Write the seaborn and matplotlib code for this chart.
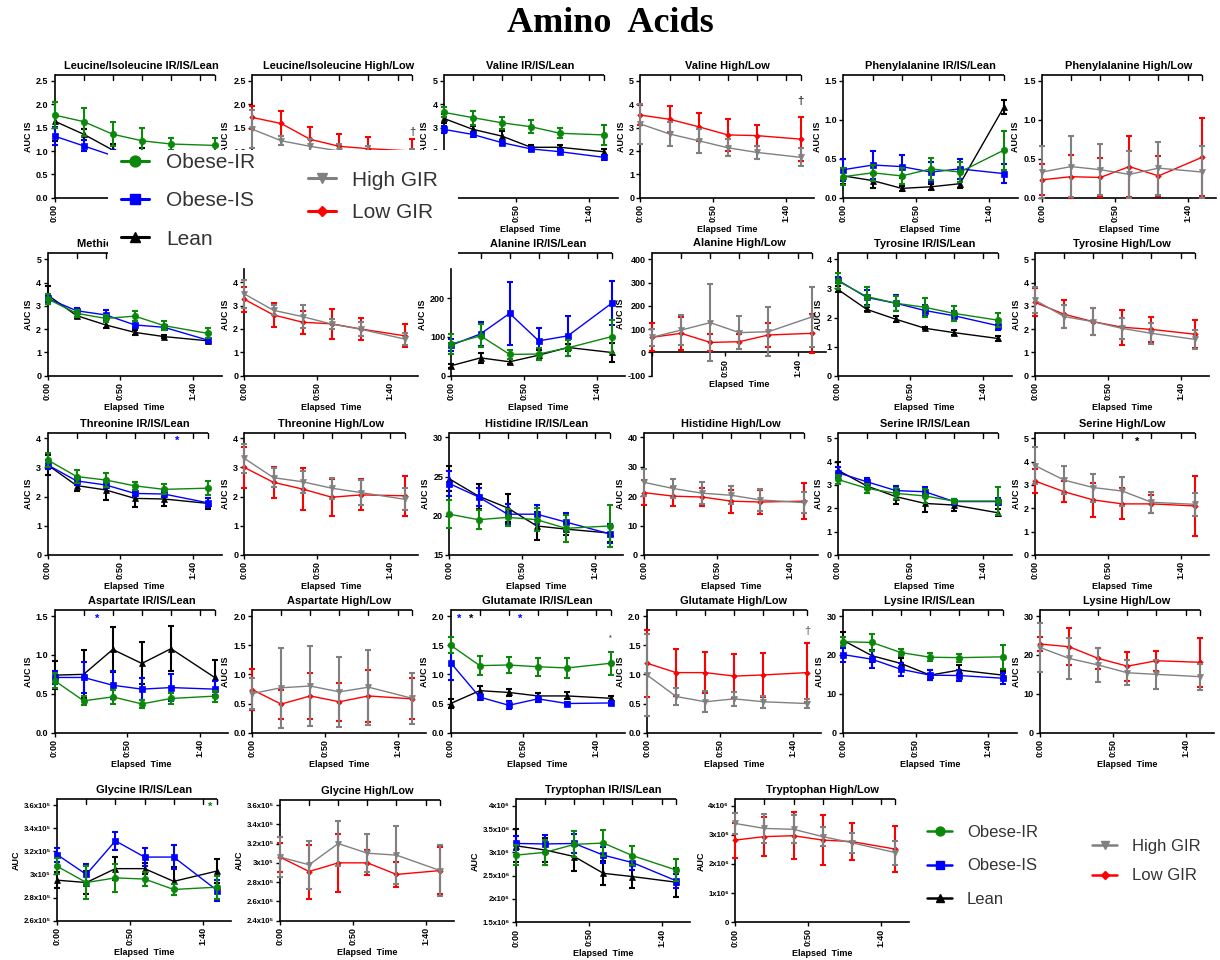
import numpy as np
import pandas as pd
import matplotlib
matplotlib.use("Agg")
import matplotlib.pyplot as plt
import seaborn as sns
from matplotlib.lines import Line2D
from matplotlib.patches import Rectangle

sns.set_theme(style="ticks")
plt.rcParams["font.family"] = ["Liberation Sans", "DejaVu Sans"]

# ---------------------------------------------------------------- data
TIMES = [0, 20, 40, 60, 80, 110]
X_TICKS = [0, 50, 100]
X_TICK_LABELS = ["0:00", "0:50", "1:40"]

# Leucine/Isoleucine
leu_ir = [1.77, 1.63, 1.36, 1.22, 1.15, 1.12]
leu_ir_e = [0.28, 0.30, 0.26, 0.28, 0.12, 0.15]
leu_is = [1.32, 1.11, 0.90, 0.80, 0.75, 0.70]
leu_is_e = [0.20, 0.12, 0.12, 0.12, 0.10, 0.10]
leu_lean = [1.64, 1.36, 1.02, 0.95, 0.90, 0.85]
leu_lean_e = [0.42, 0.12, 0.12, 0.12, 0.10, 0.10]
leu_high = [1.47, 1.22, 1.10, 1.00, 0.95, 0.90]
leu_high_e = [0.40, 0.10, 0.15, 0.15, 0.15, 0.15]
leu_low = [1.72, 1.59, 1.25, 1.10, 1.05, 1.00]
leu_low_e = [0.25, 0.27, 0.27, 0.27, 0.25, 0.25]
# Valine
val_ir = [3.66, 3.43, 3.21, 3.04, 2.76, 2.69]
val_ir_e = [0.22, 0.30, 0.25, 0.28, 0.22, 0.42]
val_is = [2.93, 2.71, 2.36, 2.09, 1.97, 1.73]
val_is_e = [0.15, 0.12, 0.10, 0.08, 0.10, 0.10]
val_lean = [3.40, 2.93, 2.64, 2.16, 2.16, 1.97]
val_lean_e = [0.20, 0.15, 0.22, 0.10, 0.10, 0.12]
val_high = [3.16, 2.73, 2.44, 2.14, 1.94, 1.73]
val_high_e = [0.85, 0.50, 0.52, 0.37, 0.27, 0.38]
val_low = [3.54, 3.36, 3.04, 2.69, 2.66, 2.51]
val_low_e = [0.43, 0.55, 0.60, 0.70, 0.45, 0.95]
# Phenylalanine
phe_ir = [0.27, 0.32, 0.28, 0.37, 0.33, 0.61]
phe_ir_e = [0.11, 0.10, 0.10, 0.14, 0.13, 0.25]
phe_is = [0.36, 0.42, 0.40, 0.33, 0.37, 0.31]
phe_is_e = [0.14, 0.18, 0.15, 0.13, 0.13, 0.12]
phe_lean = [0.28, 0.22, 0.12, 0.14, 0.18, 1.16]
phe_lean_e = [0.10, 0.09, 0.03, 0.04, 0.06, 0.09]
phe_high = [0.33, 0.40, 0.36, 0.30, 0.38, 0.33]
phe_high_e = [0.33, 0.39, 0.33, 0.30, 0.34, 0.33]
phe_low = [0.23, 0.27, 0.26, 0.40, 0.28, 0.52]
phe_low_e = [0.20, 0.28, 0.25, 0.39, 0.26, 0.50]
# Methionine
met_ir = [3.30, 2.68, 2.46, 2.56, 2.15, 1.82]
met_ir_e = [0.20, 0.15, 0.15, 0.22, 0.20, 0.22]
met_is = [3.32, 2.79, 2.61, 2.18, 2.08, 1.53]
met_is_e = [0.15, 0.10, 0.20, 0.15, 0.10, 0.07]
met_lean = [3.47, 2.58, 2.18, 1.86, 1.68, 1.50]
met_lean_e = [0.38, 0.08, 0.15, 0.10, 0.08, 0.08]
met_high = [3.50, 2.80, 2.53, 2.21, 1.99, 1.57]
met_high_e = [0.60, 0.22, 0.48, 0.20, 0.30, 0.25]
met_low = [3.27, 2.60, 2.29, 2.22, 2.00, 1.71]
met_low_e = [0.55, 0.50, 0.50, 0.65, 0.47, 0.50]
# Alanine
ala_ir = [82, 103, 55, 56, 72, 101]
ala_ir_e = [25, 30, 12, 15, 20, 42]
ala_is = [79, 108, 161, 90, 103, 187]
ala_is_e = [15, 30, 82, 33, 52, 57]
ala_lean = [26, 46, 36, 53, 73, 60]
ala_lean_e = [5, 12, 7, 13, 10, 25]
ala_high = [65, 96, 128, 85, 89, 153]
ala_high_e = [36, 63, 165, 72, 106, 130]
ala_low = [65, 82, 43, 46, 75, 82]
ala_low_e = [60, 72, 35, 32, 53, 85]
# Tyrosine
tyr_ir = [3.26, 2.72, 2.49, 2.35, 2.14, 1.91]
tyr_ir_e = [0.28, 0.33, 0.25, 0.33, 0.27, 0.25]
tyr_is = [3.29, 2.69, 2.49, 2.24, 2.06, 1.72]
tyr_is_e = [0.10, 0.25, 0.28, 0.20, 0.18, 0.15]
tyr_lean = [2.97, 2.28, 1.94, 1.63, 1.48, 1.28]
tyr_lean_e = [0.10, 0.07, 0.10, 0.03, 0.08, 0.10]
tyr_high = [3.25, 2.54, 2.32, 2.03, 1.82, 1.56]
tyr_high_e = [0.55, 0.50, 0.57, 0.45, 0.45, 0.42]
tyr_low = [3.15, 2.64, 2.32, 2.08, 1.99, 1.78]
tyr_low_e = [0.60, 0.60, 0.58, 0.75, 0.55, 0.60]
# Threonine
thr_ir = [3.26, 2.69, 2.57, 2.37, 2.25, 2.29]
thr_ir_e = [0.24, 0.22, 0.23, 0.13, 0.17, 0.24]
thr_is = [3.09, 2.54, 2.40, 2.11, 2.09, 1.79]
thr_is_e = [0.15, 0.15, 0.12, 0.10, 0.10, 0.15]
thr_lean = [3.09, 2.38, 2.23, 1.94, 1.92, 1.77]
thr_lean_e = [0.35, 0.20, 0.33, 0.30, 0.25, 0.20]
thr_high = [3.31, 2.65, 2.51, 2.29, 2.14, 1.91]
thr_high_e = [0.50, 0.32, 0.37, 0.36, 0.42, 0.38]
thr_low = [3.00, 2.49, 2.26, 1.98, 2.06, 2.03]
thr_low_e = [0.70, 0.53, 0.73, 0.63, 0.53, 0.69]
# Histidine
his_ir = [20.2, 19.5, 19.8, 19.5, 18.4, 18.7]
his_ir_e = [1.8, 1.2, 1.1, 1.5, 1.7, 2.7]
his_is = [24.1, 22.4, 20.2, 20.2, 19.2, 17.7]
his_is_e = [1.6, 1.2, 1.3, 1.2, 1.2, 1.2]
his_lean = [24.7, 22.5, 21.0, 18.7, 18.3, 17.8]
his_lean_e = [1.6, 1.6, 1.8, 1.8, 0.8, 1.2]
his_high = [24.7, 22.6, 21.0, 20.3, 18.7, 17.8]
his_high_e = [4.5, 3.1, 3.7, 3.0, 3.6, 3.5]
his_low = [21.2, 20.0, 19.7, 18.3, 18.0, 18.3]
his_low_e = [4.2, 3.2, 3.0, 3.9, 4.0, 6.0]
# Serine
ser_ir = [3.24, 2.86, 2.64, 2.53, 2.31, 2.31]
ser_ir_e = [0.20, 0.20, 0.25, 0.30, 0.10, 0.60]
ser_is = [3.53, 3.14, 2.76, 2.71, 2.29, 2.29]
ser_is_e = [0.25, 0.15, 0.20, 0.22, 0.12, 0.15]
ser_lean = [3.64, 2.96, 2.50, 2.21, 2.14, 1.81]
ser_lean_e = [0.35, 0.30, 0.30, 0.35, 0.25, 0.15]
ser_high = [3.83, 3.21, 2.89, 2.74, 2.26, 2.17]
ser_high_e = [0.80, 0.60, 0.60, 0.62, 0.45, 0.48]
ser_low = [3.17, 2.71, 2.36, 2.19, 2.19, 2.10]
ser_low_e = [0.50, 0.45, 0.72, 0.66, 0.38, 1.27]
# Aspartate
asp_ir = [0.67, 0.41, 0.46, 0.37, 0.44, 0.47]
asp_ir_e = [0.10, 0.06, 0.09, 0.05, 0.07, 0.07]
asp_is = [0.71, 0.71, 0.61, 0.56, 0.58, 0.56]
asp_is_e = [0.08, 0.20, 0.18, 0.14, 0.17, 0.10]
asp_lean = [0.74, 0.75, 1.07, 0.89, 1.08, 0.71]
asp_lean_e = [0.18, 0.31, 0.29, 0.27, 0.29, 0.23]
asp_high = [0.67, 0.77, 0.80, 0.70, 0.78, 0.59]
asp_high_e = [0.27, 0.69, 0.69, 0.60, 0.64, 0.44]
asp_low = [0.74, 0.49, 0.63, 0.53, 0.63, 0.58]
asp_low_e = [0.35, 0.25, 0.39, 0.33, 0.45, 0.35]
# Glutamate
glu_ir = [1.50, 1.15, 1.16, 1.13, 1.11, 1.19]
glu_ir_e = [0.14, 0.16, 0.14, 0.15, 0.17, 0.20]
glu_is = [1.20, 0.61, 0.47, 0.58, 0.50, 0.51]
glu_is_e = [0.30, 0.05, 0.07, 0.05, 0.03, 0.03]
glu_lean = [0.50, 0.72, 0.69, 0.63, 0.63, 0.59]
glu_lean_e = [0.07, 0.08, 0.06, 0.05, 0.06, 0.04]
glu_high = [0.99, 0.62, 0.53, 0.58, 0.53, 0.50]
glu_high_e = [0.70, 0.15, 0.18, 0.12, 0.10, 0.08]
glu_low = [1.19, 1.03, 1.03, 0.97, 0.99, 1.03]
glu_low_e = [0.57, 0.40, 0.35, 0.38, 0.38, 0.50]
# Lysine
lys_ir = [23.4, 23.2, 20.6, 19.4, 19.3, 19.5]
lys_ir_e = [1.2, 2.2, 0.9, 1.0, 1.0, 3.0]
lys_is = [20.1, 18.9, 16.3, 14.8, 14.7, 14.0]
lys_is_e = [1.8, 2.2, 1.7, 1.3, 1.5, 1.4]
lys_lean = [23.8, 19.8, 17.8, 14.8, 16.1, 14.8]
lys_lean_e = [2.1, 1.5, 1.5, 1.3, 1.2, 1.0]
lys_high = [21.9, 19.1, 17.4, 15.4, 15.0, 14.4]
lys_high_e = [6.2, 5.2, 4.3, 3.2, 3.7, 3.3]
lys_low = [22.8, 22.1, 19.1, 17.1, 18.5, 18.1]
lys_low_e = [1.9, 4.7, 2.8, 3.7, 2.6, 6.3]
# Glycine (AUC)
gly_ir = [3.07e5, 2.93e5, 2.97e5, 2.96e5, 2.87e5, 2.89e5]
gly_ir_e = [0.07e5, 0.14e5, 0.12e5, 0.06e5, 0.05e5, 0.10e5]
gly_is = [3.17e5, 3.00e5, 3.29e5, 3.15e5, 3.15e5, 2.86e5]
gly_is_e = [0.06e5, 0.09e5, 0.08e5, 0.08e5, 0.10e5, 0.09e5]
gly_lean = [2.95e5, 2.93e5, 3.05e5, 3.05e5, 2.94e5, 3.03e5]
gly_lean_e = [0.07e5, 0.10e5, 0.10e5, 0.05e5, 0.12e5, 0.10e5]
gly_high = [3.06e5, 2.98e5, 3.20e5, 3.10e5, 3.08e5, 2.92e5]
gly_high_e = [0.21e5, 0.25e5, 0.23e5, 0.20e5, 0.30e5, 0.26e5]
gly_low = [3.06e5, 2.91e5, 3.00e5, 3.00e5, 2.88e5, 2.92e5]
gly_low_e = [0.15e5, 0.28e5, 0.30e5, 0.13e5, 0.13e5, 0.24e5]
# Tryptophan (AUC)
trp_ir = [2.94e6, 3.00e6, 3.17e6, 3.20e6, 2.93e6, 2.62e6]
trp_ir_e = [0.22e6, 0.27e6, 0.28e6, 0.28e6, 0.20e6, 0.24e6]
trp_is = [3.19e6, 3.18e6, 3.19e6, 2.94e6, 2.78e6, 2.39e6]
trp_is_e = [0.15e6, 0.20e6, 0.20e6, 0.17e6, 0.15e6, 0.15e6]
trp_lean = [3.14e6, 3.05e6, 2.91e6, 2.55e6, 2.48e6, 2.36e6]
trp_lean_e = [0.35e6, 0.25e6, 0.30e6, 0.26e6, 0.24e6, 0.31e6]
trp_high = [3.39e6, 3.22e6, 3.19e6, 2.94e6, 2.73e6, 2.39e6]
trp_high_e = [0.37e6, 0.50e6, 0.48e6, 0.32e6, 0.35e6, 0.41e6]
trp_low = [2.82e6, 2.94e6, 2.97e6, 2.82e6, 2.77e6, 2.51e6]
trp_low_e = [0.60e6, 0.67e6, 0.80e6, 0.86e6, 0.63e6, 0.79e6]

# y tick values / labels
T_25 = [0.0, 0.5, 1.0, 1.5, 2.0, 2.5]
T_15 = [0.0, 0.5, 1.0, 1.5]
T_20 = [0.0, 0.5, 1.0, 1.5, 2.0]
T_5 = [0, 1, 2, 3, 4, 5]
T_4 = [0, 1, 2, 3, 4]
T_ALA_IR = [0, 100, 200]
T_ALA_HL = [-100, 0, 100, 200, 300, 400]
T_HIS_IR = [15, 20, 25, 30]
T_HIS_HL = [0, 10, 20, 30, 40]
T_LYS = [0, 10, 20, 30]
T_GLY_IR = [2.6e5, 2.8e5, 3.0e5, 3.2e5, 3.4e5, 3.6e5]
L_GLY_IR = ["2.6x10⁵", "2.8x10⁵", "3x10⁵", "3.2x10⁵", "3.4x10⁵", "3.6x10⁵"]
T_GLY_HL = [2.4e5, 2.6e5, 2.8e5, 3.0e5, 3.2e5, 3.4e5, 3.6e5]
L_GLY_HL = ["2.4x10⁵", "2.6x10⁵", "2.8x10⁵", "3x10⁵", "3.2x10⁵", "3.4x10⁵", "3.6x10⁵"]
T_TRP_IR = [1.5e6, 2.0e6, 2.5e6, 3.0e6, 3.5e6, 4.0e6]
L_TRP_IR = ["1.5x10⁶", "2x10⁶", "2.5x10⁶", "3x10⁶", "3.5x10⁶", "4x10⁶"]
T_TRP_HL = [0, 1e6, 2e6, 3e6, 4e6]
L_TRP_HL = ["0", "1x10⁶", "2x10⁶", "3x10⁶", "4x10⁶"]

# ---------------------------------------------------------------- style
W, H = 1220, 960
AX_W = 174.0
XMAX = 119.5
TOP_TICKS = [20, 40, 60, 80, 100, 110]

STYLE = {
    "Obese-IR": dict(color="#0b870b", marker="o", ms=4.6),
    "Obese-IS": dict(color="#0000ff", marker="s", ms=4.3),
    "Lean": dict(color="#000000", marker="^", ms=4.6),
    "High GIR": dict(color="#808080", marker="v", ms=4.6),
    "Low GIR": dict(color="#ff0000", marker="D", ms=2.8),
}

ROW1 = (197.7, 81.0, 75.0)
ROW2 = (375.7, 259.3, 253.3)
ROW3 = (555.0, 438.3, 433.3)
ROW4 = (732.7, 616.0, 610.0)


def s3(ir, ire, is_, ise, ln, lne):
    return [("Lean", ln, lne), ("Obese-IS", is_, ise), ("Obese-IR", ir, ire)]


def s2(hi, hie, lo, loe):
    return [("Low GIR", lo, loe), ("High GIR", hi, hie)]


def fmt(ticks, f):
    return [f.format(t) for t in ticks]


PANELS = [
    dict(title="Leucine/Isoleucine IR/IS/Lean", x0=54.5, row=ROW1, yt=T_25, yl=fmt(T_25, "{:.1f}"),
         series=s3(leu_ir, leu_ir_e, leu_is, leu_is_e, leu_lean, leu_lean_e)),
    dict(title="Leucine/Isoleucine High/Low", x0=252, row=ROW1, yt=T_25, yl=fmt(T_25, "{:.1f}"),
         series=s2(leu_high, leu_high_e, leu_low, leu_low_e),
         notes=[(110, 1.40, "†", "#555555", 8)]),
    dict(title="Valine IR/IS/Lean", x0=443.6, row=ROW1, yt=T_5, yl=fmt(T_5, "{:g}"),
         series=s3(val_ir, val_ir_e, val_is, val_is_e, val_lean, val_lean_e)),
    dict(title="Valine High/Low", x0=640.4, row=ROW1, yt=T_5, yl=fmt(T_5, "{:g}"),
         series=s2(val_high, val_high_e, val_low, val_low_e),
         notes=[(110, 4.15, "†", "#333333", 8)]),
    dict(title="Phenylalanine IR/IS/Lean", x0=843.5, row=ROW1, yt=T_15, yl=fmt(T_15, "{:.1f}"),
         series=s3(phe_ir, phe_ir_e, phe_is, phe_is_e, phe_lean, phe_lean_e)),
    dict(title="Phenylalanine High/Low", x0=1042, row=ROW1, yt=T_15, yl=fmt(T_15, "{:.1f}"),
         series=s2(phe_high, phe_high_e, phe_low, phe_low_e)),
    # row 2
    dict(title="Methionine IR/IS/Lean", x0=47.5, row=ROW2, yt=T_5, yl=fmt(T_5, "{:g}"),
         series=s3(met_ir, met_ir_e, met_is, met_is_e, met_lean, met_lean_e)),
    dict(title="Methionine High/Low", x0=244.4, row=(375.7, 282.3, 253.3), yt=T_4, yl=fmt(T_4, "{:g}"),
         series=s2(met_high, met_high_e, met_low, met_low_e), spine_top=4.55),
    dict(title="Alanine IR/IS/Lean", x0=451.4, row=(375.7, 298.3, 253.3), yt=T_ALA_IR, yl=fmt(T_ALA_IR, "{:g}"),
         series=s3(ala_ir, ala_ir_e, ala_is, ala_is_e, ala_lean, ala_lean_e), spine_top=275),
    dict(title="Alanine High/Low", x0=652, row=(375.7, 259.3, 252.7), yt=T_ALA_HL, yl=fmt(T_ALA_HL, "{:g}"),
         series=s2(ala_high, ala_high_e, ala_low, ala_low_e), zero_axis=True),
    dict(title="Tyrosine IR/IS/Lean", x0=837.6, row=ROW2, yt=T_4, yl=fmt(T_4, "{:g}"),
         series=s3(tyr_ir, tyr_ir_e, tyr_is, tyr_is_e, tyr_lean, tyr_lean_e)),
    dict(title="Tyrosine High/Low", x0=1035, row=ROW2, yt=T_5, yl=fmt(T_5, "{:g}"),
         series=s2(tyr_high, tyr_high_e, tyr_low, tyr_low_e)),
    # row 3
    dict(title="Threonine IR/IS/Lean", x0=47.5, row=ROW3, yt=T_4, yl=fmt(T_4, "{:g}"),
         series=s3(thr_ir, thr_ir_e, thr_is, thr_is_e, thr_lean, thr_lean_e),
         notes=[(89, 3.92, "*", "#0000ff", 8)]),
    dict(title="Threonine High/Low", x0=244.4, row=ROW3, yt=T_4, yl=fmt(T_4, "{:g}"),
         series=s2(thr_high, thr_high_e, thr_low, thr_low_e)),
    dict(title="Histidine IR/IS/Lean", x0=449.4, row=(555.0, 437.3, 433.3), yt=T_HIS_IR, yl=fmt(T_HIS_IR, "{:g}"),
         series=s3(his_ir, his_ir_e, his_is, his_is_e, his_lean, his_lean_e)),
    dict(title="Histidine High/Low", x0=644, row=(555.0, 437.3, 433.3), yt=T_HIS_HL, yl=fmt(T_HIS_HL, "{:g}"),
         series=s2(his_high, his_high_e, his_low, his_low_e)),
    dict(title="Serine IR/IS/Lean", x0=837.6, row=ROW3, yt=T_5, yl=fmt(T_5, "{:g}"),
         series=s3(ser_ir, ser_ir_e, ser_is, ser_is_e, ser_lean, ser_lean_e)),
    dict(title="Serine High/Low", x0=1035, row=ROW3, yt=T_5, yl=fmt(T_5, "{:g}"),
         series=s2(ser_high, ser_high_e, ser_low, ser_low_e),
         notes=[(70, 4.85, "*", "#000000", 8)]),
    # row 4
    dict(title="Aspartate IR/IS/Lean", x0=54.5, row=ROW4, yt=T_15, yl=fmt(T_15, "{:.1f}"),
         series=s3(asp_ir, asp_ir_e, asp_is, asp_is_e, asp_lean, asp_lean_e),
         notes=[(29, 1.46, "*", "#0000ff", 8)]),
    dict(title="Aspartate High/Low", x0=252, row=ROW4, yt=T_20, yl=fmt(T_20, "{:.1f}"),
         series=s2(asp_high, asp_high_e, asp_low, asp_low_e)),
    dict(title="Glutamate IR/IS/Lean", x0=450.6, row=ROW4, yt=T_20, yl=fmt(T_20, "{:.1f}"),
         series=s3(glu_ir, glu_ir_e, glu_is, glu_is_e, glu_lean, glu_lean_e),
         notes=[(6, 1.95, "*", "#0000ff", 8), (14, 1.95, "*", "#000000", 8),
                (48, 1.95, "*", "#0000ff", 8), (110, 1.62, "*", "#555555", 5)]),
    dict(title="Glutamate High/Low", x0=647, row=ROW4, yt=T_20, yl=fmt(T_20, "{:.1f}"),
         series=s2(glu_high, glu_high_e, glu_low, glu_low_e),
         notes=[(110, 1.74, "†", "#777777", 8)]),
    dict(title="Lysine IR/IS/Lean", x0=842.7, row=ROW4, yt=T_LYS, yl=fmt(T_LYS, "{:g}"),
         series=s3(lys_ir, lys_ir_e, lys_is, lys_is_e, lys_lean, lys_lean_e)),
    dict(title="Lysine High/Low", x0=1040, row=ROW4, yt=T_LYS, yl=fmt(T_LYS, "{:g}"),
         series=s2(lys_high, lys_high_e, lys_low, lys_low_e)),
    # row 5
    dict(title="Glycine IR/IS/Lean", x0=57.2, row=(920.7, 805.0, 799.3), yt=T_GLY_IR, yl=L_GLY_IR,
         series=s3(gly_ir, gly_ir_e, gly_is, gly_is_e, gly_lean, gly_lean_e), ylabel="AUC", small=True,
         notes=[(105, 3.585e5, "*", "#0b870b", 8)]),
    dict(title="Glycine High/Low", x0=280, row=(920.7, 805.0, 800.0), yt=T_GLY_HL, yl=L_GLY_HL,
         series=s2(gly_high, gly_high_e, gly_low, gly_low_e), ylabel="AUC", small=True),
    dict(title="Tryptophan IR/IS/Lean", x0=516, row=(922.3, 805.7, 799.3), yt=T_TRP_IR, yl=L_TRP_IR,
         series=s3(trp_ir, trp_ir_e, trp_is, trp_is_e, trp_lean, trp_lean_e), ylabel="AUC", small=True),
    dict(title="Tryptophan High/Low", x0=735.3, row=(922.3, 805.7, 799.3), yt=T_TRP_HL, yl=L_TRP_HL,
         series=s2(trp_high, trp_high_e, trp_low, trp_low_e), ylabel="AUC", small=True),
]

fig = plt.figure(figsize=(W / 100, H / 100), dpi=100)
fig.patch.set_facecolor("white")


def draw_panel(p):
    bot, tck, top = p["row"]
    ax = fig.add_axes([p["x0"] / W, 1 - bot / H, AX_W / W, (bot - top) / H])
    ax.set_facecolor("white")
    yt = p["yt"]
    ymin, ytop = yt[0], yt[-1]
    ymax = ymin + (ytop - ymin) * (bot - top) / (bot - tck)

    for side in ("top", "right"):
        ax.spines[side].set_visible(False)
    if p.get("zero_axis"):
        ax.spines["bottom"].set_position(("data", 0))

    for name, mean, err in p["series"]:
        st = STYLE[name]
        ax.errorbar(TIMES, mean, yerr=err, fmt="none", ecolor=st["color"],
                    elinewidth=1.5, capsize=2.3, capthick=1.5, clip_on=False, zorder=3)
        df = pd.DataFrame({"t": TIMES, "v": mean})
        sns.lineplot(data=df, x="t", y="v", ax=ax, color=st["color"], marker=st["marker"],
                     markersize=st["ms"], markeredgecolor=st["color"], markeredgewidth=0.5,
                     linewidth=1.0, estimator=None, sort=False, legend=False,
                     clip_on=False, zorder=3)

    ax.set_xlim(0, XMAX)
    ax.set_ylim(ymin, ymax)
    ax.set_xticks(X_TICKS)
    xl = list(X_TICK_LABELS)
    if p.get("zero_axis"):
        xl[0] = ""
    ax.set_xticklabels(xl, rotation=90)
    ax.set_yticks(yt)
    ax.set_yticklabels(p["yl"])
    lsz = 5.6 if p.get("small") else 6.5
    ax.tick_params(axis="both", direction="out", length=3, width=1.0, pad=1.5,
                   labelsize=6.5, colors="black")
    ax.tick_params(axis="y", labelsize=lsz)
    for lab in ax.get_xticklabels() + ax.get_yticklabels():
        lab.set_fontweight("bold")

    for side in ("left", "bottom"):
        ax.spines[side].set_color("black")
        ax.spines[side].set_linewidth(1.2)
    if "spine_top" in p:
        ax.spines["left"].set_bounds(ymin, p["spine_top"])

    # top bar with ticks at the sampling times
    tr = ax.get_xaxis_transform()
    ax.plot([TIMES[0], TIMES[-1]], [1, 1], transform=tr, color="black", lw=1.2,
            clip_on=False, solid_capstyle="butt", zorder=2.5)
    frac = 5.0 / (bot - top)
    for t in TOP_TICKS:
        ax.plot([t, t], [1, 1 - frac], transform=tr, color="black", lw=1.0,
                clip_on=False, zorder=2.5)

    ax.set_title(p["title"], fontsize=7.9, fontweight="bold", pad=4.5, color="black")
    ax.set_xlabel("Elapsed  Time", fontsize=6.5, fontweight="bold", labelpad=2, color="black")
    ax.set_ylabel(p.get("ylabel", "AUC IS"), fontsize=6.5, fontweight="bold", labelpad=2, color="black")

    for (x, y, txt, col, fs) in p.get("notes", []):
        ax.text(x, y, txt, color=col, fontsize=fs, fontweight="bold", ha="center",
                va="center", clip_on=False, zorder=4)
    return ax


for p in PANELS:
    draw_panel(p)

fig.text(0.5, 1 - 23 / H, "Amino  Acids", ha="center", va="center", fontsize=26,
         fontweight="bold", family=["Liberation Serif", "DejaVu Serif"], color="black")

# ---------------------------------------------------------------- legends
fig.add_artist(Rectangle((108 / W, 1 - 260 / H), (458 - 108) / W, (260 - 150) / H,
                         transform=fig.transFigure, facecolor="white", edgecolor="none",
                         zorder=4))


def handles(names, ms_scale, lw):
    hs = []
    for n in names:
        st = STYLE[n]
        hs.append(Line2D([], [], color=st["color"], marker=st["marker"], lw=lw,
                         markersize=st["ms"] * ms_scale, markeredgecolor=st["color"]))
    return hs


GROUPS_3 = ["Obese-IR", "Obese-IS", "Lean"]
GROUPS_2 = ["High GIR", "Low GIR"]


def add_legend(names, left_px, center_px, fs, ms_scale, lw, hl, htp, ls):
    leg = fig.legend(handles=handles(names, ms_scale, lw), labels=names, loc="center left",
                     bbox_to_anchor=(left_px / W, 1 - center_px / H),
                     bbox_transform=fig.transFigure, frameon=False, fontsize=fs,
                     handlelength=hl, handletextpad=htp, labelspacing=ls,
                     borderpad=0, borderaxespad=0)
    for t in leg.get_texts():
        t.set_color("#333333")
    leg.set_zorder(6)
    return leg


add_legend(GROUPS_3, 121, 201, 15, 1.7, 2.2, 1.35, 0.8, 0.92)
add_legend(GROUPS_2, 308, 196.5, 15, 1.7, 2.2, 1.35, 0.75, 0.66)
add_legend(GROUPS_3, 927, 866, 12, 1.4, 1.8, 1.5, 0.9, 1.12)
add_legend(GROUPS_2, 1092, 861, 12, 1.4, 1.8, 1.5, 0.9, 0.9)

fig.savefig("out.png", dpi=100, facecolor="white")
